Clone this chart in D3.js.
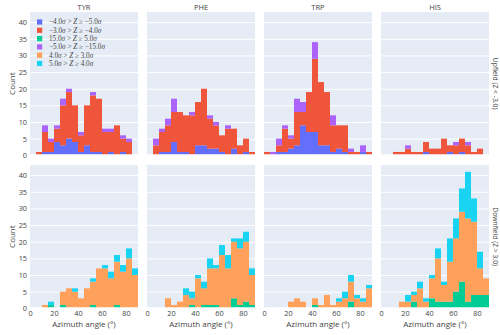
<!DOCTYPE html>
<html><head><meta charset="utf-8">
<script src="https://cdn.jsdelivr.net/npm/d3@7"></script>
<style>body{margin:0;background:#fff}svg{display:block}</style>
</head><body><svg id="c" width="500" height="335"></svg>
<script>
// ---------- data ----------
const residues = ["TYR", "PHE", "TRP", "HIS"];
const binStarts = [0, 5, 10, 15, 20, 25, 30, 35, 40, 45, 50, 55, 60, 65, 70, 75, 80, 85];
const binWidth = 5;
const xTicks = [0, 20, 40, 60, 80];
const yTicks = [0, 5, 10, 15, 20, 25, 30, 35, 40];
const rowLabels = ["Upfield (Z < -3.0)", "Downfield (Z > 3.0)"];
const seriesNames = ["−4.0σ > Z ≥ −5.0σ", "−3.0σ > Z ≥ −4.0σ", "15.0σ > Z ≥ 5.0σ",
                     "−5.0σ > Z ≥ −15.0σ", "4.0σ > Z ≥ 3.0σ", "5.0σ > Z ≥ 4.0σ"];
const seriesColors = ["#636efa", "#EF553B", "#00cc96", "#ab63fa", "#FFA15A", "#19d3f3"];

// upfield series (rows: TYR, PHE, TRP, HIS)
const zM4toM5 = [
  [0,0,1,1,4,3,5,4,1,3,1,1,0,1,0,1,0,0],
  [0,0,1,1,4,1,1,0,3,3,2,2,1,0,2,0,1,0],
  [0,0,1,1,2,3,9,7,7,3,3,1,2,1,0,0,1,0],
  [0,0,0,0,0,0,0,1,0,0,0,1,0,1,0,0,0,0]
];
const zM3toM4 = [
  [0,1,6,3,4,12,14,11,5,12,17,16,7,6,9,4,4,0],
  [0,3,6,8,9,12,11,12,13,17,9,7,5,8,6,3,4,1],
  [1,0,2,7,3,10,4,12,22,19,16,8,7,8,1,1,0,1],
  [0,0,1,1,2,1,1,3,2,2,5,2,3,4,3,1,2,0]
];
const zM5toM15 = [
  [0,0,2,1,1,2,1,0,1,0,1,0,1,1,0,1,1,0],
  [0,2,1,2,4,0,0,1,0,0,1,1,0,1,0,0,0,0],
  [0,1,2,1,1,4,3,0,5,0,0,3,0,0,1,0,2,0],
  [0,0,0,0,1,0,0,0,0,0,0,0,1,0,1,0,0,0]
];
// downfield series
const z15to5 = [
  [0,0,0,1,0,1,0,0,0,0,1,0,0,0,1,0,0,0],
  [0,0,0,0,0,0,0,1,0,1,1,1,0,0,3,1,2,1],
  [0,0,0,0,0,0,0,0,1,0,0,0,0,0,2,0,0,0],
  [0,0,0,0,0,2,0,0,3,2,2,2,5,8,2,4,4,4]
];
const z4to3 = [
  [0,0,1,0,0,4,6,5,3,6,7,12,12,9,13,11,15,10],
  [0,0,0,3,1,2,4,2,9,5,11,11,16,12,17,17,18,9],
  [0,0,0,0,2,3,2,0,2,1,4,1,2,3,6,3,2,6],
  [0,0,0,2,2,2,6,2,6,13,5,12,16,21,25,22,8,5]
];
const z5to4 = [
  [0,0,0,1,0,0,0,1,0,0,1,0,1,2,2,2,3,2],
  [0,0,0,0,0,0,2,2,1,2,3,1,3,4,1,3,3,2],
  [0,0,0,0,0,0,0,0,0,0,0,0,1,2,2,1,1,1],
  [0,0,0,0,2,1,2,1,1,3,1,7,6,7,14,7,5,0]
];
const zeros = [0,0,0,0,0,0,0,0,0,0,0,0,0,0,0,0,0,0];

// ---------- layout ----------
const colX = [30, 147, 264, 381];
const panelW = 108;
const rowY = [12, 165];
const panelH = 143.3;
const yMax = 43.05;
const txt = "#444";
const font = "'Open Sans', sans-serif";

const svg = d3.select("#c");

function seriesFor(row, r) {
  // stack order follows legend order
  if (row === 0) return [zM4toM5[r], zM3toM4[r], zeros, zM5toM15[r], zeros, zeros];
  return [zeros, zeros, z15to5[r], zeros, z4to3[r], z5to4[r]];
}

for (let row = 0; row < 2; row++) {
  for (let r = 0; r < residues.length; r++) {
    const x0 = colX[r], y0 = rowY[row];
    const x = d3.scaleLinear().domain([0, 90]).range([x0, x0 + panelW]);
    const y = d3.scaleLinear().domain([0, yMax]).range([y0 + panelH, y0]);
    const g = svg.append("g");
    g.append("rect").attr("x", x0).attr("y", y0).attr("width", panelW).attr("height", panelH)
      .attr("fill", "#E5ECF6");
    // gridlines
    const grid = g.append("g").attr("transform", `translate(${x0},0)`)
      .call(d3.axisLeft(y).tickValues(yTicks).tickSize(-panelW).tickFormat(""));
    grid.select(".domain").remove();
    grid.selectAll("line").attr("stroke", "#fff").attr("stroke-width", 1);

    // stacked bars
    const ser = seriesFor(row, r);
    const table = binStarts.map((b, i) => {
      const o = { bin: b };
      ser.forEach((s, k) => o["s" + k] = s[i]);
      return o;
    });
    const keys = ser.map((_, k) => "s" + k);
    const stacked = d3.stack().keys(keys)(table);
    stacked.forEach((layer, k) => {
      g.append("g").selectAll("rect")
        .data(layer.filter(d => d[1] - d[0] > 0))
        .join("rect")
        .attr("x", d => x(d.data.bin))
        .attr("width", d => x(d.data.bin + binWidth) - x(d.data.bin))
        .attr("y", d => y(d[1]))
        .attr("height", d => y(d[0]) - y(d[1]))
        .attr("fill", seriesColors[k]);
    });
    // zero line
    g.append("line").attr("x1", x0).attr("x2", x0 + panelW)
      .attr("y1", y(0)).attr("y2", y(0)).attr("stroke", "#fff").attr("stroke-width", 2);

    // y axis labels (first column)
    if (r === 0) {
      const ya = g.append("g").attr("transform", `translate(${x0},0)`)
        .call(d3.axisLeft(y).tickValues(yTicks).tickSize(0).tickPadding(3));
      ya.select(".domain").remove();
      ya.selectAll("text").attr("fill", txt).attr("font-family", font).attr("font-size", 7.3);
      g.append("text").attr("transform", `translate(12,${y0 + panelH / 2}) rotate(-90)`)
        .attr("text-anchor", "middle").attr("dy", "0.35em")
        .attr("fill", txt).attr("font-family", font).attr("font-size", 8).text("Count");
    }
    // x axis (bottom row)
    if (row === 1) {
      const xa = g.append("g").attr("transform", `translate(0,${y0 + panelH})`)
        .call(d3.axisBottom(x).tickValues(xTicks).tickSize(0).tickPadding(3));
      xa.select(".domain").remove();
      xa.selectAll("text").attr("fill", txt).attr("font-family", font).attr("font-size", 7.3);
      g.append("text").attr("x", x0 + panelW / 2).attr("y", 326.5)
        .attr("text-anchor", "middle").attr("fill", txt).attr("font-family", font)
        .attr("font-size", 8).text("Azimuth angle (°)");
    }
    // titles
    if (row === 0) {
      g.append("text").attr("x", x0 + panelW / 2).attr("y", 9.5).attr("text-anchor", "middle")
        .attr("fill", txt).attr("font-family", font).attr("font-size", 7.5).text(residues[r]);
    }
    // right row annotation
    if (r === 3) {
      g.append("text").attr("transform", `translate(${x0 + panelW + 3},${y0 + panelH / 2}) rotate(90)`)
        .attr("text-anchor", "middle").attr("dy", "-0.2em")
        .attr("fill", txt).attr("font-family", font).attr("font-size", 6.8).text(rowLabels[row]);
    }
  }
}

// legend
const lg = svg.append("g");
seriesNames.forEach((name, i) => {
  const cy = 22 + i * 8.3;
  lg.append("rect").attr("x", 37).attr("y", cy - 2.6).attr("width", 5.2).attr("height", 5.2)
    .attr("fill", seriesColors[i]);
  const t = lg.append("text").attr("x", 49).attr("y", cy).attr("dy", "0.33em")
    .attr("font-family", "'Liberation Serif', serif").attr("font-size", 7.2).attr("fill", txt);
  name.split(/(σ|Z)/).filter(s => s.length).forEach(part => {
    t.append("tspan").attr("font-style", (part === "σ" || part === "Z") ? "italic" : "normal").text(part);
  });
});
</script></body></html>
